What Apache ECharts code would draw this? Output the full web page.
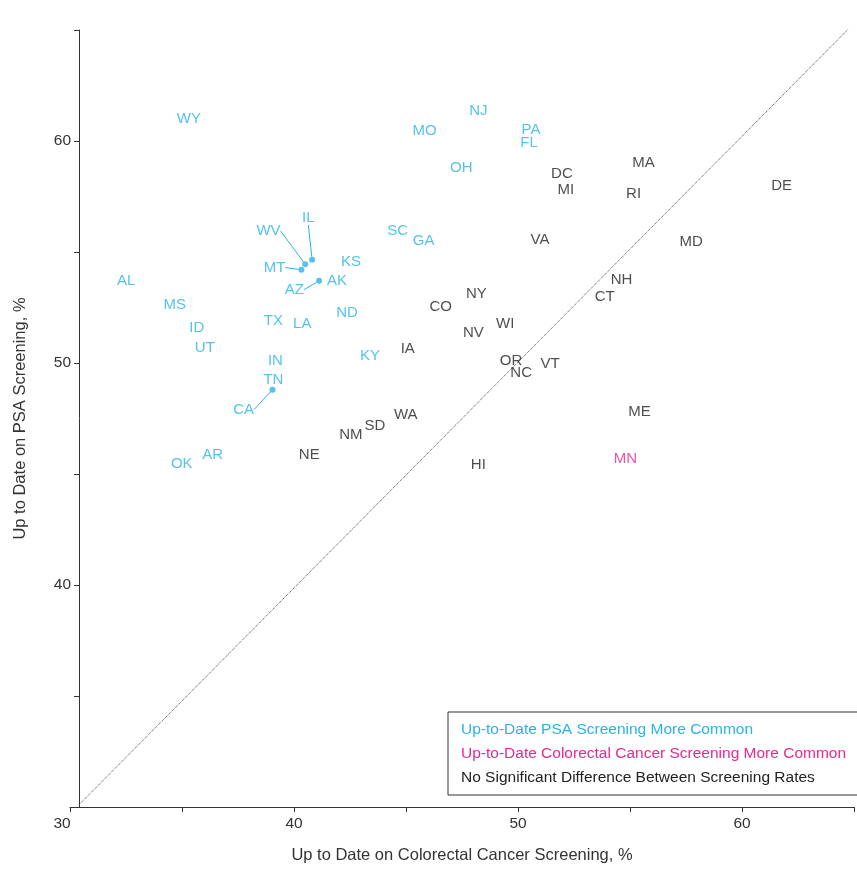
<!DOCTYPE html>
<html>
<head>
<meta charset="utf-8">
<script src="https://cdn.jsdelivr.net/npm/echarts@6/dist/echarts.min.js"></script>
<style>
html,body{margin:0;padding:0;background:#fff;}
#c{width:857px;height:869px;}
</style>
</head>
<body>
<div id="c"></div>
<script>
// Up-to-Date PSA Screening More Common: [state, colorectal %, PSA %]
const psaMore = [
  ['WY',35.31,61.0],['NJ',48.23,61.35],['MO',45.83,60.45],['PA',50.58,60.5],['FL',50.49,59.9],
  ['OH',47.47,58.8],['KS',42.54,54.55],['SC',44.63,55.95],['GA',45.79,55.5],['AK',41.92,53.7],
  ['AL',32.51,53.7],['MS',34.68,52.6],['ID',35.66,51.6],['UT',36.02,50.7],['TX',39.08,51.9],
  ['LA',40.37,51.75],['ND',42.37,52.25],['KY',43.39,50.3],['IN',39.17,50.1],['TN',39.08,49.25],
  ['AR',36.37,45.85],['OK',34.99,45.45]
];
// PSA-more states whose label is moved away from the point: [state, point x, point y, label x, label y]
const psaLeader = [
  ['IL',40.81,54.65,40.64,56.55],['WV',40.5,54.45,38.86,55.95],['MT',40.33,54.2,39.13,54.3],
  ['AZ',41.12,53.7,40.01,53.3],['CA',39.04,48.8,37.75,47.9]
];
// Up-to-Date Colorectal Cancer Screening More Common
const crcMore = [['MN',54.8,45.7]];
// No Significant Difference Between Screening Rates
const noDiff = [
  ['DC',51.96,58.5],['MA',55.6,59.0],['MI',52.14,57.8],['RI',55.16,57.6],['DE',61.77,58.0],
  ['VA',50.98,55.55],['MD',57.73,55.45],['IA',45.08,50.65],['CO',46.55,52.55],['NY',48.14,53.1],
  ['NV',48.01,51.35],['WI',49.43,51.75],['NH',54.62,53.75],['CT',53.87,53.0],['OR',49.69,50.1],
  ['NC',50.14,49.55],['VT',51.43,49.95],['WA',44.99,47.65],['SD',43.61,47.15],['NM',42.54,46.75],
  ['NE',40.68,45.85],['ME',55.42,47.8],['HI',48.23,45.4]
];
// dotted line of equal rates
const diagonal = [[30.4,30.1],[65,65.3]];
const legendNames = [
  'Up-to-Date PSA Screening More Common',
  'Up-to-Date Colorectal Cancer Screening More Common',
  'No Significant Difference Between Screening Rates'
];
const colors = ['#29b3e8','#e8288e','#222222'];

const chart = echarts.init(document.getElementById('c'));
const FONT = 'Liberation Sans, Arial, sans-serif';

function textSeries(name, rows, color){
  return {
    name: name, type:'scatter', symbolSize:0, silent:true,
    data: rows.map(r => ({name:r[0], value:[r[1], r[2]]})),
    itemStyle:{color:color},
    label:{show:true, position:'inside', formatter:'{b}', color:color,
      fontFamily:FONT, fontSize:15}
  };
}

const option = {
  animation:false,
  backgroundColor:'#fff',
  grid:{left:70, right:0, top:30, bottom:59, containLabel:false},
  xAxis:{
    type:'value', min:30, max:65, interval:5,
    name:'Up to Date on Colorectal Cancer Screening, %', nameLocation:'middle', nameGap:40,
    nameTextStyle:{fontFamily:FONT, fontSize:16.5, color:'#333'},
    axisLine:{show:true, lineStyle:{color:'#333', width:1}},
    axisTick:{show:true, length:5, lineStyle:{color:'#333'}},
    axisLabel:{color:'#333', fontFamily:FONT, fontSize:15.5, margin:9,
      formatter: v => (v === 30 ? '{first|30}' : (v % 10 === 0 ? String(v) : '')),
      rich:{first:{fontFamily:FONT, fontSize:15.5, color:'#333', padding:[0,16,0,0]}}},
    splitLine:{show:false}
  },
  yAxis:{
    type:'value', min:30, max:65, interval:5, offset:-9,
    name:'Up to Date on PSA Screening, %', nameLocation:'middle', nameGap:50,
    nameTextStyle:{fontFamily:FONT, fontSize:16.5, color:'#333'},
    axisLine:{show:true, lineStyle:{color:'#333', width:1}},
    axisTick:{show:true, length:5, lineStyle:{color:'#333'}},
    axisLabel:{color:'#333', fontFamily:FONT, fontSize:15.5, margin:8,
      formatter: v => (v % 10 === 0 && v !== 30 ? String(v) : '')},
    splitLine:{show:false}
  },
  legend:{
    orient:'vertical', left:448, top:712,
    data: legendNames.map((n,i)=>({name:n, icon:'rect', textStyle:{color:colors[i]}})),
    itemWidth:0, itemHeight:0, itemGap:8,
    padding:[10,40,9,8],
    borderColor:'#333', borderWidth:1, backgroundColor:'#fff',
    textStyle:{fontFamily:FONT, fontSize:15.5},
    selectedMode:false
  },
  series:[
    {
      type:'line', data:diagonal, symbol:'none', silent:true,
      lineStyle:{type:'dotted', color:'#444', width:1}, z:1
    },
    textSeries(legendNames[0], psaMore, colors[0]),
    {
      name: legendNames[0], type:'scatter', symbolSize:6, silent:true,
      data: psaLeader.map(r => ({name:r[0], value:[r[1], r[2]]})),
      itemStyle:{color:colors[0]},
      label:{show:true, position:'inside', formatter:'{b}', color:colors[0],
        fontFamily:FONT, fontSize:15},
      labelLine:{show:true, length2:0, lineStyle:{color:colors[0], width:1}},
      labelLayout: function(params){
        const r = psaLeader[params.dataIndex];
        const p = chart.convertToPixel({gridIndex:0}, [r[3], r[4]]);
        return {x:p[0], y:p[1], align:'center', verticalAlign:'middle'};
      }
    },
    textSeries(legendNames[1], crcMore, colors[1]),
    textSeries(legendNames[2], noDiff, colors[2])
  ]
};
chart.setOption(option);
</script>
</body>
</html>
